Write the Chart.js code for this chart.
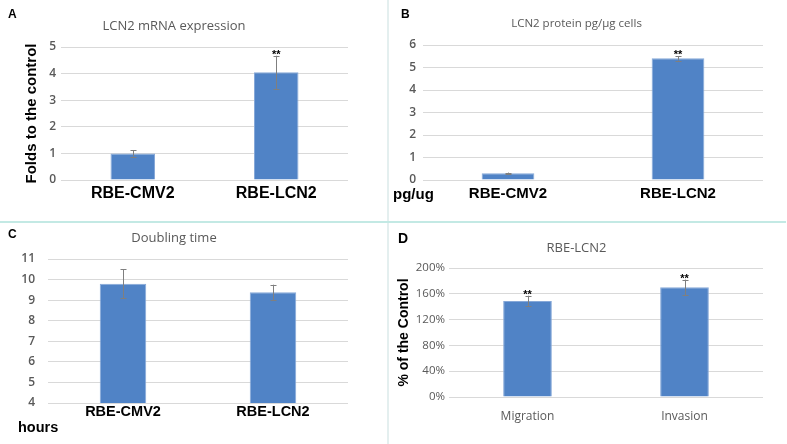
<!DOCTYPE html>
<html>
<head>
<meta charset="utf-8">
<script src="https://cdn.jsdelivr.net/npm/chart.js@4.4.0/dist/chart.umd.min.js"></script>
<style>
    body { margin: 0; width: 787px; height: 444px; position: relative; background: #fff; overflow: hidden; font-family: Arial, "Liberation Sans", sans-serif; }
    .panel { position: absolute; }
    .tag { position: absolute; font-weight: bold; color: #000; line-height: 1; white-space: nowrap; }
    .vline { position: absolute; left: 387px; top: 0; width: 2px; height: 444px; background: #e4efef; }
    .hline { position: absolute; left: 0; top: 221px; width: 786px; height: 2px; background: #c3e9e4; }
</style>
</head>
<body>
<div class="vline"></div>
<div class="hline"></div>

<div class="panel" style="left:0;top:0;width:387px;height:221px"><canvas id="chartA"></canvas></div>
<div class="panel" style="left:390px;top:0;width:397px;height:221px"><canvas id="chartB"></canvas></div>
<div class="panel" style="left:0;top:223px;width:387px;height:221px"><canvas id="chartC"></canvas></div>
<div class="panel" style="left:390px;top:223px;width:397px;height:221px"><canvas id="chartD"></canvas></div>

<div class="tag" style="left:8px;top:8px;font-size:12px">A</div>
<div class="tag" style="left:401px;top:8px;font-size:12px">B</div>
<div class="tag" style="left:8px;top:228px;font-size:12px">C</div>
<div class="tag" style="left:398px;top:231px;font-size:14px">D</div>
<div class="tag" style="left:393px;top:186px;font-size:15px">pg/ug</div>
<div class="tag" style="left:18px;top:420px;font-size:14.5px">hours</div>

<script>
// values
var cellLines = ['RBE-CMV2', 'RBE-LCN2'];
var assays = ['Migration', 'Invasion'];

var mrnaFolds = [1.0, 4.05];
var mrnaErr = [0.12, 0.62];
var mrnaStars = ['', '**'];

var proteinPg = [0.3, 5.41];
var proteinErr = [0.03, 0.1];
var proteinStars = ['', '**'];

var doublingHours = [9.8, 9.38];
var doublingErr = [0.7, 0.37];
var doublingStars = ['', ''];

var lcn2Percent = [1.49, 1.7];
var lcn2Err = [0.08, 0.12];
var lcn2Stars = ['**', '**'];

var BAR_BLUE = '#5083c6';
var GRID = '#d9d9d9';
var GRAY_TEXT = '#595959';
var SANS = '"Open Sans", "DejaVu Sans", sans-serif';
var ARIAL = 'Arial, "Liberation Sans", sans-serif';

// error bars and the ** marks, drawn from the y scale
function errorBarPlugin(errors, stars) {
    return {
        id: 'errorBars',
        afterDatasetsDraw: function (chart) {
            var ctx = chart.ctx;
            var y = chart.scales.y;
            var values = chart.data.datasets[0].data;
            var bars = chart.getDatasetMeta(0).data;
            ctx.save();
            bars.forEach(function (bar, i) {
                var hi = y.getPixelForValue(values[i] + errors[i]);
                var lo = y.getPixelForValue(values[i] - errors[i]);
                var x = Math.round(bar.x) + 0.5;
                ctx.strokeStyle = '#7f7f7f';
                ctx.lineWidth = 1;
                ctx.beginPath();
                ctx.moveTo(x, hi); ctx.lineTo(x, lo);
                ctx.moveTo(x - 3, Math.round(hi) + 0.5); ctx.lineTo(x + 3, Math.round(hi) + 0.5);
                ctx.moveTo(x - 3, Math.round(lo) + 0.5); ctx.lineTo(x + 3, Math.round(lo) + 0.5);
                ctx.stroke();
                if (stars[i]) {
                    ctx.fillStyle = '#000';
                    ctx.font = 'bold 11px ' + ARIAL;
                    ctx.textAlign = 'center';
                    ctx.textBaseline = 'alphabetic';
                    ctx.fillText(stars[i], bar.x, hi + 2);
                }
            });
            ctx.restore();
        }
    };
}

// p = { box, area, title, titleSize, titleY, ... } all in page pixels
function createBarPanel(canvasId, p) {
    var yWidth = p.area.left - p.box.left;
    var xHeight = p.box.top + p.box.height - p.area.bottom;
    var half = p.titleSize * 1.2 / 2;

    var yAxisTitle = { display: false };
    if (p.yTitle) {
        yAxisTitle = {
            display: true,
            text: p.yTitle,
            color: '#000',
            font: { family: ARIAL, size: p.yTitleSize, weight: 'bold' },
            padding: { top: p.yTitlePad, bottom: 0 }
        };
    }

    return new Chart(document.getElementById(canvasId), {
        type: 'bar',
        data: {
            labels: p.labels,
            datasets: [{
                data: p.values,
                backgroundColor: BAR_BLUE,
                borderColor: '#86a8d8',
                borderWidth: 1,
                barPercentage: 0.31,
                categoryPercentage: 1.0
            }]
        },
        options: {
            responsive: true,
            maintainAspectRatio: false,
            animation: false,
            layout: { padding: { left: 0, right: p.box.left + p.box.width - p.area.right, top: 0, bottom: 0 } },
            scales: {
                x: {
                    grid: { display: false, drawTicks: false },
                    border: { display: false },
                    ticks: {
                        color: p.xColor,
                        font: p.xFont,
                        padding: p.xPad,
                        maxRotation: 0,
                        autoSkip: false
                    },
                    afterFit: function (scale) { scale.height = xHeight; }
                },
                y: {
                    min: p.min,
                    max: p.max,
                    grid: { color: GRID, lineWidth: 1, drawTicks: false },
                    border: { display: false },
                    title: yAxisTitle,
                    ticks: {
                        stepSize: p.step,
                        color: GRAY_TEXT,
                        font: p.yFont,
                        padding: p.yPad,
                        callback: p.tickFormat
                    },
                    afterFit: function (scale) { scale.width = yWidth; }
                }
            },
            plugins: {
                legend: { display: false },
                tooltip: { enabled: false },
                title: {
                    display: true,
                    text: p.title,
                    color: GRAY_TEXT,
                    font: { family: SANS, size: p.titleSize, weight: 'normal' },
                    padding: { top: p.titleY - p.box.top - half, bottom: p.area.top - p.titleY - half }
                }
            }
        },
        plugins: [errorBarPlugin(p.errors, p.stars)]
    });
}

// A - mRNA
createBarPanel('chartA', {
    box: { left: 0, top: 0, width: 387, height: 221 },
    area: { left: 61, top: 47, right: 348, bottom: 180 },
    title: 'LCN2 mRNA expression', titleSize: 13, titleY: 26,
    labels: cellLines, values: mrnaFolds, errors: mrnaErr, stars: mrnaStars,
    min: 0, max: 5, step: 1,
    yFont: { family: SANS, size: 12, weight: '600' }, yPad: 5,
    xFont: { family: ARIAL, size: 16, weight: 'bold' }, xColor: '#000', xPad: 4,
    yTitle: 'Folds to the control', yTitleSize: 15, yTitlePad: 23
});

// B - protein
createBarPanel('chartB', {
    box: { left: 390, top: 0, width: 397, height: 221 },
    area: { left: 423, top: 45, right: 763, bottom: 180 },
    title: 'LCN2 protein pg/\u00b5g cells', titleSize: 11.5, titleY: 24,
    labels: cellLines, values: proteinPg, errors: proteinErr, stars: proteinStars,
    min: 0, max: 6, step: 1,
    yFont: { family: SANS, size: 12, weight: '600' }, yPad: 7,
    xFont: { family: ARIAL, size: 15, weight: 'bold' }, xColor: '#000', xPad: 5
});

// C - doubling time
createBarPanel('chartC', {
    box: { left: 0, top: 223, width: 387, height: 221 },
    area: { left: 48, top: 259, right: 348, bottom: 403 },
    title: 'Doubling time', titleSize: 13, titleY: 238,
    labels: cellLines, values: doublingHours, errors: doublingErr, stars: doublingStars,
    min: 4, max: 11, step: 1,
    yFont: { family: SANS, size: 12, weight: '600' }, yPad: 13,
    xFont: { family: ARIAL, size: 14.5, weight: 'bold' }, xColor: '#000', xPad: 0
});

// D - migration / invasion
createBarPanel('chartD', {
    box: { left: 390, top: 223, width: 397, height: 221 },
    area: { left: 449, top: 268, right: 763, bottom: 397 },
    title: 'RBE-LCN2', titleSize: 13, titleY: 248,
    labels: assays, values: lcn2Percent, errors: lcn2Err, stars: lcn2Stars,
    min: 0, max: 2, step: 0.4,
    tickFormat: function (value) { return Math.round(value * 100) + '%'; },
    yFont: { family: SANS, size: 11.5, weight: 'normal' }, yPad: 4,
    xFont: { family: SANS, size: 12, weight: 'normal' }, xColor: GRAY_TEXT, xPad: 12,
    yTitle: '% of the Control', yTitleSize: 14, yTitlePad: 6
});
</script>
</body>
</html>
